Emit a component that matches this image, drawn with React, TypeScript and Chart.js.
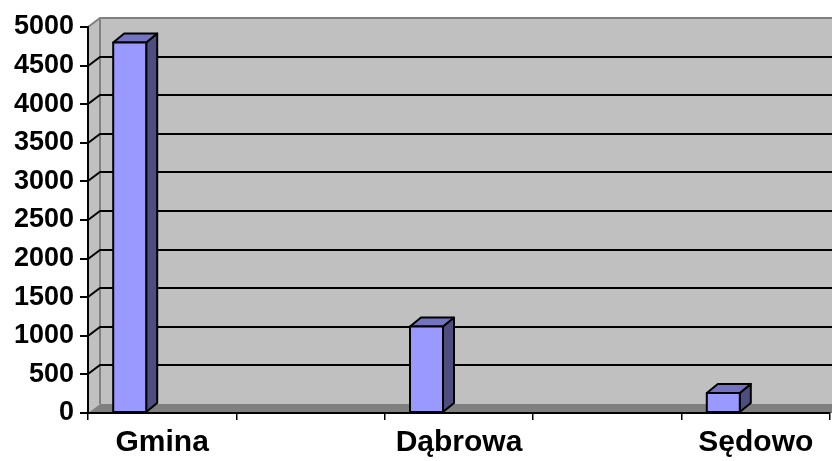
import React, { useEffect, useRef } from "react";
import { Chart, registerables } from "chart.js";

Chart.register(...registerables);

const categories = ["Gmina", "", "Dąbrowa", "", "Sędowo"];
const values: (number | null)[] = [4800, null, 1120, null, 260];
const yTicks = [0, 500, 1000, 1500, 2000, 2500, 3000, 3500, 4000, 4500, 5000];

const WALL_DX = 12;
const WALL_DY = 9;
const BAR_DX = 11;
const BAR_DY = 9;

const threeD = {
  id: "threeD",
  beforeDraw(chart: any) {
    const ctx = chart.ctx;
    const { left: L, right: R, top: T, bottom: B } = chart.chartArea;
    const y = chart.scales.y;
    ctx.save();
    ctx.fillStyle = "#c0c0c0";
    ctx.fillRect(L + WALL_DX, T - WALL_DY, R - L + 20, B - T);
    ctx.beginPath();
    ctx.moveTo(L, T);
    ctx.lineTo(L + WALL_DX, T - WALL_DY);
    ctx.lineTo(L + WALL_DX, B - WALL_DY);
    ctx.lineTo(L, B);
    ctx.closePath();
    ctx.fillStyle = "#c0c0c0";
    ctx.fill();
    ctx.beginPath();
    ctx.moveTo(L, B);
    ctx.lineTo(L + WALL_DX, B - WALL_DY);
    ctx.lineTo(R + 30, B - WALL_DY);
    ctx.lineTo(R + 30, B);
    ctx.closePath();
    ctx.fillStyle = "#808080";
    ctx.fill();
    ctx.strokeStyle = "#808080";
    ctx.lineWidth = 2;
    ctx.beginPath();
    ctx.moveTo(L, T);
    ctx.lineTo(L + WALL_DX, T - WALL_DY);
    ctx.lineTo(R + 30, T - WALL_DY);
    ctx.moveTo(L + WALL_DX, T - WALL_DY);
    ctx.lineTo(L + WALL_DX, B - WALL_DY);
    ctx.stroke();
    ctx.strokeStyle = "#000000";
    ctx.lineWidth = 2;
    for (const v of yTicks) {
      if (v === 0 || v === 5000) continue;
      const py = Math.round(y.getPixelForValue(v));
      ctx.beginPath();
      ctx.moveTo(L, py);
      ctx.lineTo(L + WALL_DX, py - WALL_DY);
      ctx.lineTo(R + 30, py - WALL_DY);
      ctx.stroke();
    }
    ctx.restore();
  },
  afterDatasetsDraw(chart: any) {
    const ctx = chart.ctx;
    const meta = chart.getDatasetMeta(0);
    ctx.save();
    ctx.lineWidth = 2;
    ctx.strokeStyle = "#000000";
    ctx.lineJoin = "round";
    meta.data.forEach((el: any, i: number) => {
      if (values[i] == null) return;
      const w = 33;
      const x0 = el.x - 49;
      const x1 = x0 + w;
      const top = el.y;
      const base = el.base;
      ctx.beginPath();
      ctx.moveTo(x1, base);
      ctx.lineTo(x1, top);
      ctx.lineTo(x1 + BAR_DX, top - BAR_DY);
      ctx.lineTo(x1 + BAR_DX, base - BAR_DY);
      ctx.closePath();
      ctx.fillStyle = "#4d4d80";
      ctx.fill();
      ctx.stroke();
      ctx.beginPath();
      ctx.moveTo(x0, top);
      ctx.lineTo(x1, top);
      ctx.lineTo(x1 + BAR_DX, top - BAR_DY);
      ctx.lineTo(x0 + BAR_DX, top - BAR_DY);
      ctx.closePath();
      ctx.fillStyle = "#7373bf";
      ctx.fill();
      ctx.stroke();
      ctx.beginPath();
      ctx.rect(x0, top, w, base - top);
      ctx.fillStyle = "#9999ff";
      ctx.fill();
      ctx.stroke();
    });
    ctx.restore();
  },
};

export default function App() {
  const ref = useRef<HTMLCanvasElement | null>(null);
  useEffect(() => {
    if (!ref.current) return;
    const chart = new Chart(ref.current, {
      type: "bar",
      data: {
        labels: categories,
        datasets: [
          {
            data: values,
            backgroundColor: "rgba(0,0,0,0)",
            borderWidth: 0,
          },
        ],
      },
      options: {
        animation: false,
        responsive: false,
        maintainAspectRatio: false,
        layout: { padding: { top: 27, right: 2, left: 0, bottom: 0 } },
        plugins: { legend: { display: false }, tooltip: { enabled: false } },
        scales: {
          x: {
            afterFit: (s: any) => {
              s.height = 48;
            },
            grid: {
              offset: true,
              drawOnChartArea: false,
              drawTicks: true,
              tickLength: 7,
              color: "#000000",
              lineWidth: 1.5,
            },
            border: { display: true, color: "#000000", width: 2 },
            ticks: {
              color: "#000000",
              font: { family: "Liberation Sans, Arial, sans-serif", size: 30, weight: "bold" },
              padding: 5,
              autoSkip: false,
              maxRotation: 0,
            },
          },
          y: {
            min: 0,
            max: 5000,
            afterFit: (s: any) => {
              s.width = 88;
            },
            afterBuildTicks: (s: any) => {
              s.ticks = yTicks.map((v) => ({ value: v }));
            },
            grid: {
              drawOnChartArea: false,
              drawTicks: true,
              tickLength: 8,
              color: "#000000",
              lineWidth: 2,
            },
            border: { display: true, color: "#000000", width: 2 },
            ticks: {
              color: "#000000",
              font: { family: "Liberation Sans, Arial, sans-serif", size: 27, weight: "bold" },
              padding: 6,
              callback: (v: any) => String(v),
            },
          },
        },
      },
      plugins: [threeD],
    });
    return () => chart.destroy();
  }, []);
  return (
    <div style={{ position: "absolute", left: 0, top: 0, width: 832, height: 461, background: "#ffffff" }}>
      <canvas ref={ref} width={832} height={461} style={{ width: 832, height: 461 }} />
    </div>
  );
}
